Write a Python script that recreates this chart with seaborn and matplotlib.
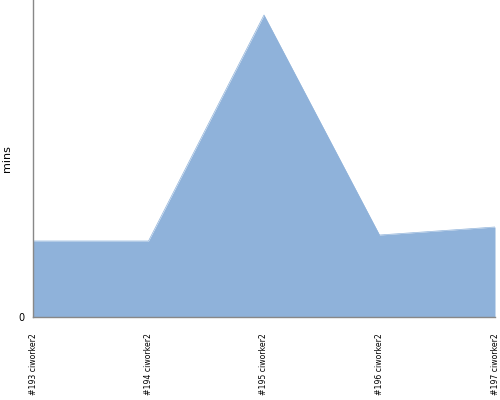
import numpy as np
import matplotlib
matplotlib.use("Agg")
import matplotlib.pyplot as plt
import seaborn as sns
import pandas as pd

# dados
builds = ["#193 ciworker2", "#194 ciworker2", "#195 ciworker2", "#196 ciworker2", "#197 ciworker2"]
minutos = [7.6, 7.6, 30.2, 8.2, 9.0]

df = pd.DataFrame({"build": builds, "mins": minutos})
df["pos"] = range(len(df))

sns.set_style("white")
fig = plt.figure(figsize=(5, 4), dpi=100)
ax = fig.add_axes([0.066, 0.2075, 0.924, 0.7925])

sns.lineplot(data=df, x="pos", y="mins", ax=ax, color="#8fb2da", linewidth=0.5)
ax.fill_between(df["pos"], df["mins"], color="#8fb2da", linewidth=0)

ax.set_xlim(0, len(df) - 1)
ax.set_ylim(0, 31.7)
ax.set_yticks([0])
ax.set_yticklabels(["0"], fontsize=7, color="black")
ax.set_xticks(df["pos"])
ax.set_xticklabels(df["build"], rotation=90, fontsize=5.6, color="black",
                   family=["Liberation Sans Narrow", "DejaVu Sans"])
ax.set_xlabel("")
ax.set_ylabel("mins", fontsize=8, color="black")
ax.yaxis.set_label_coords(-0.045, 0.5)
ax.tick_params(axis="y", length=5, color="#888888", pad=1)
ax.tick_params(axis="x", length=0, pad=11.5)
sns.despine(ax=ax)
for s in ["left", "bottom"]:
    ax.spines[s].set_color("#888888")
    ax.spines[s].set_linewidth(1)

fig.savefig("out.png", dpi=100)
